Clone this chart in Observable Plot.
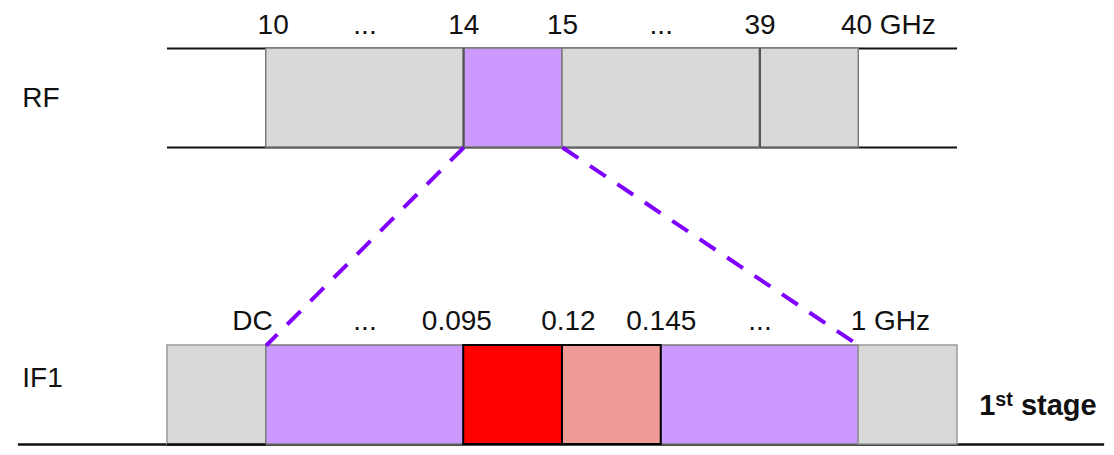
<!DOCTYPE html>
<html>
<head>
<meta charset="utf-8">
<script src="https://cdn.jsdelivr.net/npm/d3@7"></script>
<script src="https://cdn.jsdelivr.net/npm/@observablehq/plot@0.6"></script>
<style>
  html, body { margin: 0; padding: 0; background: #fff; }
  svg { display: block; }
</style>
</head>
<body>
<div id="chart"></div>
<script>
// Frequency plan, positions in "slot" units along the band diagram
const rfBandStart = [1, 3, 4, 6];
const rfBandEnd   = [3, 4, 6, 7];
const rfBandKind  = ["other", "tuned", "other", "other"];

const ifBandStart = [0, 1, 3, 4, 5, 7];
const ifBandEnd   = [1, 3, 4, 5, 7, 8];
const ifBandKind  = ["outside", "tuned", "signal", "image", "tuned", "outside"];

const rfTickLabels = ["10", "...", "14", "15", "...", "39", "40 GHz"];
const rfTickPos    = [1.07, 2, 3, 4, 5, 6, 7.3];

const ifTickLabels = ["DC", "...", "0.095", "0.12", "0.145", "...", "1 GHz"];
const ifTickPos    = [0.86, 2, 2.93, 4.06, 5, 6, 7.32];

const rowNames = ["RF", "IF1"];
const rowTop   = [0, 3];   // row top in row units
const rowBottom = [1, 4];

// mapping lines: RF edge -> IF edge
const mapFrom = [3, 4];
const mapTo   = [1, 7];

const stageLabel = "1st stage";

const kinds  = ["other", "tuned", "signal", "image", "outside"];
const colors = ["#d9d9d9", "#cc99ff", "#ff0000", "#f09b98", "#d9d9d9"];
const strokes = {other: "#7a7a7a", tuned: "#7a7a7a", signal: "#000", image: "#000", outside: "#9a9a9a"};

const rfBands = rfBandStart.map((s, i) => ({x1: s, x2: rfBandEnd[i], y1: rowTop[0], y2: rowBottom[0], kind: rfBandKind[i]}));
const ifBands = ifBandStart.map((s, i) => ({x1: s, x2: ifBandEnd[i], y1: rowTop[1], y2: rowBottom[1], kind: ifBandKind[i]}));
const rfTicks = rfTickLabels.map((t, i) => ({x: rfTickPos[i], t}));
const ifTicks = ifTickLabels.map((t, i) => ({x: ifTickPos[i], t}));
const maps = mapFrom.map((f, i) => ({x1: f, y1: rowBottom[0], x2: mapTo[i], y2: rowTop[1]}));

const font = "Liberation Sans, Arial, sans-serif";

const chart = Plot.plot({
  width: 1114,
  height: 455,
  marginLeft: 167,
  marginRight: 157,
  marginTop: 48,
  marginBottom: 11,
  x: {domain: [0, 8], axis: null},
  y: {domain: [0, 4], range: [48, 444], axis: null},
  color: {domain: kinds, range: colors},
  style: {fontFamily: font, background: "#fff", overflow: "visible"},
  marks: [
    // RF rails
    Plot.ruleY([rowTop[0], rowBottom[0]], {x1: 0, x2: 8, stroke: "#111", strokeWidth: 2}),
    // IF baseline
    Plot.ruleY([rowBottom[1]], {x1: -1.51, x2: 9.49, stroke: "#111", strokeWidth: 2.5}),
    // Bands
    Plot.rect(ifBands.filter(d => d.kind === "outside" || d.kind === "tuned"), {x1: "x1", x2: "x2", y1: "y1", y2: "y2", fill: "kind", stroke: d => strokes[d.kind], strokeWidth: 1.5, inset: 0}),
    Plot.rect(rfBands, {x1: "x1", x2: "x2", y1: "y1", y2: "y2", fill: "kind", stroke: d => strokes[d.kind], strokeWidth: 1.5, inset: 0}),
    Plot.ruleX([6, 3], {y1: rowTop[0], y2: rowBottom[0], stroke: "#555", strokeWidth: 2}),
    Plot.rect(ifBands.filter(d => d.kind === "signal" || d.kind === "image"), {x1: "x1", x2: "x2", y1: "y1", y2: "y2", fill: "kind", stroke: "#000", strokeWidth: 2, inset: 0}),
    Plot.ruleY([rowBottom[1]], {x1: 0, x2: 1, stroke: "#111", strokeWidth: 2.5}),
    // mapping dashed lines
    Plot.link(maps, {x1: "x1", y1: "y1", x2: "x2", y2: "y2", stroke: "#7f00ff", strokeWidth: 4, strokeDasharray: "19 14"}),
    // tick labels
    Plot.text(rfTicks, {x: "x", y: -0.24, text: "t", fontSize: 28, fill: "#111", lineAnchor: "middle"}),
    Plot.text(ifTicks, {x: "x", y: 2.75, text: "t", fontSize: 28, fill: "#111", lineAnchor: "middle"}),
    // row labels
    Plot.text(rowNames, {x: -1.47, y: (d, i) => [0.5, 3.33][i], text: d => d, fontSize: 28, fill: "#111", textAnchor: "start", lineAnchor: "middle"}),
    // stage label
    Plot.text([stageLabel], {x: 8.22, y: 3.61, text: d => d, fontSize: 29, fontWeight: "bold", fill: "#111", textAnchor: "start", lineAnchor: "middle", className: "stage"})
  ]
});

document.getElementById("chart").appendChild(chart);

// superscript on "1st"
d3.select(chart).selectAll("g.stage text").each(function () {
  const t = d3.select(this);
  t.text(null);
  t.append("tspan").text("1");
  t.append("tspan").attr("dy", "-0.45em").attr("font-size", "0.68em").text("st");
  t.append("tspan").attr("dy", "0.306em").text(" stage");
});
</script>
</body>
</html>
